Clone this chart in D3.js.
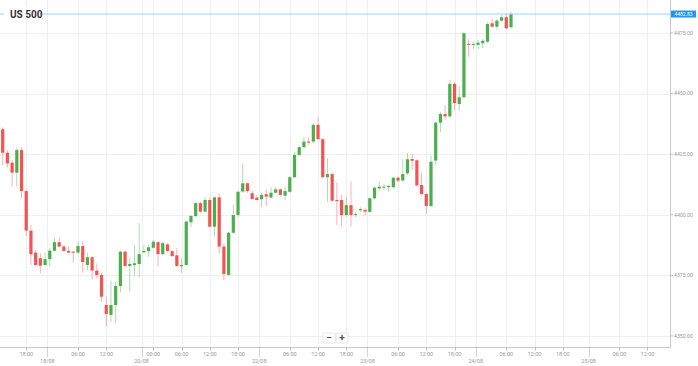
<!DOCTYPE html>
<html><head><meta charset="utf-8">
<script src="https://cdn.jsdelivr.net/npm/d3@7"></script>
<style>html,body{margin:0;padding:0;background:#fff;overflow:hidden}svg{display:block}</style>
</head><body>
<svg id="chart" width="698" height="366"></svg>
<script>
// Hourly candles (trading hours only), index 0 = 17/08 13:00
const opens  = [4435.3,4425.6,4421.5,4417.4,4426.7,4409.8,4393.5,4384.4,4382.1,4379.3,4381.7,4385.2,4388.7,4386.9,4385.1,4384.8,4384.4,4387.1,4379.3,4382.5,4377.0,4375.2,4362.8,4358.7,4362.8,4370.6,4384.8,4378.9,4379.3,4379.7,4384.5,4385.0,4386.4,4388.7,4383.8,4387.8,4385.0,4383.3,4378.8,4379.3,4396.9,4399.5,4404.8,4401.3,4406.1,4395.1,4407.2,4386.9,4375.2,4392.6,4399.9,4409.6,4413.0,4408.9,4407.1,4406.4,4408.5,4407.1,4409.1,4410.5,4407.9,4409.5,4415.5,4424.7,4427.9,4430.2,4430.2,4437.1,4431.2,4415.5,4416.8,4406.1,4406.1,4399.9,4404.0,4399.9,4401.9,4402.0,4401.2,4406.8,4410.9,4411.2,4411.4,4411.4,4415.3,4414.2,4417.1,4423.0,4422.5,4412.3,4408.6,4403.6,4422.4,4438.0,4441.6,4440.6,4454.0,4445.7,4448.5,4470.5,4470.1,4470.1,4470.8,4471.4,4479.0,4477.6,4480.1,4481.5,4477.4];
const highs  = [4436.1,4426.7,4422.6,4427.6,4427.9,4410.2,4395.8,4385.5,4384.1,4384.3,4386.3,4390.3,4390.6,4387.6,4386.9,4385.2,4388.9,4388.9,4384.4,4383.0,4380.0,4376.1,4366.2,4372.8,4372.4,4385.2,4385.2,4382.1,4387.6,4396.5,4387.6,4387.6,4389.6,4389.2,4388.9,4388.3,4385.5,4386.2,4382.1,4397.7,4399.9,4405.4,4405.4,4407.2,4407.2,4407.5,4408.9,4388.3,4393.0,4404.1,4409.8,4421.0,4413.3,4410.0,4408.2,4409.1,4410.5,4411.4,4411.4,4410.9,4411.6,4416.0,4426.0,4428.4,4432.0,4432.0,4437.8,4440.2,4431.6,4423.3,4417.4,4413.3,4408.2,4407.5,4413.7,4401.3,4403.1,4402.7,4407.2,4411.6,4413.7,4412.7,4412.3,4415.7,4415.7,4422.9,4425.4,4425.1,4422.9,4417.3,4408.9,4424.5,4438.7,4442.5,4445.3,4455.5,4454.9,4453.0,4475.3,4472.4,4471.4,4472.1,4472.5,4479.3,4480.7,4480.7,4482.4,4483.1,4483.8];
const lows   = [4420.5,4419.6,4411.6,4411.6,4406.8,4391.3,4379.3,4378.6,4375.9,4378.9,4378.6,4384.8,4386.7,4384.8,4384.1,4380.3,4384.1,4376.1,4377.2,4373.4,4373.8,4364.2,4353.9,4355.9,4355.3,4367.9,4378.5,4368.3,4374.5,4374.2,4384.1,4382.7,4386.1,4378.9,4383.4,4384.7,4382.6,4378.4,4376.1,4378.9,4394.9,4399.1,4400.8,4400.9,4394.9,4391.0,4384.1,4373.1,4374.8,4392.3,4399.0,4409.1,4409.0,4406.3,4405.9,4403.1,4403.6,4406.8,4408.9,4407.9,4406.1,4409.1,4415.1,4424.3,4427.4,4428.8,4429.5,4430.9,4415.1,4405.4,4405.4,4395.8,4395.4,4399.2,4395.1,4399.0,4401.3,4399.9,4400.8,4406.4,4410.0,4410.2,4409.5,4410.9,4413.4,4413.7,4416.4,4418.5,4411.6,4407.8,4400.3,4403.4,4420.5,4433.9,4439.1,4440.1,4443.2,4443.0,4448.1,4465.2,4468.3,4468.3,4468.7,4471.0,4477.3,4476.5,4479.7,4476.5,4476.9];
const closes = [4425.6,4421.2,4417.4,4426.7,4409.8,4393.5,4383.7,4379.3,4379.0,4381.7,4385.2,4388.7,4386.9,4385.1,4384.4,4384.4,4387.1,4380.5,4382.5,4377.0,4375.1,4366.2,4359.1,4362.8,4370.6,4384.8,4378.9,4379.7,4380.0,4383.8,4385.1,4386.6,4388.9,4383.8,4388.3,4385.1,4383.0,4378.9,4379.3,4397.2,4399.5,4404.8,4401.3,4406.1,4395.1,4407.2,4386.9,4375.6,4392.6,4399.9,4409.5,4413.0,4409.8,4406.5,4406.1,4408.2,4407.5,4409.1,4410.5,4408.2,4409.8,4415.5,4424.7,4427.9,4430.2,4429.8,4437.1,4431.2,4415.5,4416.8,4405.8,4405.8,4399.9,4404.0,4399.9,4400.3,4402.4,4401.3,4406.8,4411.2,4411.6,4411.6,4411.9,4415.3,4414.1,4416.8,4422.9,4422.3,4412.1,4408.6,4403.6,4421.9,4438.0,4441.6,4440.6,4454.0,4446.1,4448.5,4474.9,4470.1,4470.5,4471.0,4471.8,4478.7,4477.6,4480.1,4481.5,4476.9,4482.83];

const priceTicks = [4350, 4375, 4400, 4425, 4450, 4475];
const timeTickIdx = [5,16,22,32,38,44,50,61,67,73,84,90,96,107,113,119,131,137];
const timeTickLabels = ["18:00","06:00","12:00","00:00","06:00","12:00","18:00","06:00","12:00","18:00","06:00","12:00","18:00","06:00","12:00","18:00","06:00","12:00"];
const dateTickIdx = [9.5,29.5,54.5,77.5,100.5,124.5];
const dateTickLabels = ["18/08","20/08","22/08","23/08","24/08","25/08"];
const lastPrice = 4482.83;
const title = "US 500";

const svg = d3.select("#chart");
const plotRight = 670.5, plotBottom = 347.5;
const x = d3.scaleLinear().domain([0, opens.length - 1]).range([2.7, 511]);
const y = d3.scaleLinear().domain([4350, 4475]).range([336, 33]);
const font = "Roboto, 'Open Sans', Arial, sans-serif";

// grid
const grid = svg.append("g");
grid.selectAll("line.h").data(priceTicks).join("line")
  .attr("x1", 0).attr("x2", plotRight).attr("y1", d => Math.round(y(d)) + 0.5).attr("y2", d => Math.round(y(d)) + 0.5)
  .attr("stroke", "#efefef").attr("stroke-width", 1);
grid.selectAll("line.v").data(timeTickIdx.concat(dateTickIdx)).join("line")
  .attr("x1", d => Math.round(x(d)) + 0.5).attr("x2", d => Math.round(x(d)) + 0.5)
  .attr("y1", 0).attr("y2", plotBottom)
  .attr("stroke", "#efefef").attr("stroke-width", 1);

// candles
const data = opens.map((o, i) => ({i, o, h: highs[i], l: lows[i], c: closes[i]}));
const up = "#4cae4f", down = "#f55252";
const cg = svg.append("g");
cg.selectAll("line").data(data).join("line")
  .attr("x1", d => x(d.i)).attr("x2", d => x(d.i))
  .attr("y1", d => y(d.h)).attr("y2", d => y(d.l))
  .attr("stroke", d => d.c >= d.o ? up : down).attr("stroke-opacity", 0.45).attr("stroke-width", 1);
cg.selectAll("rect").data(data).join("rect")
  .attr("x", d => x(d.i) - 1.6).attr("width", 3.2)
  .attr("y", d => y(Math.max(d.o, d.c)))
  .attr("height", d => Math.max(1, Math.abs(y(d.o) - y(d.c))))
  .attr("fill", d => d.c >= d.o ? up : down);

// last price line
svg.append("line").attr("x1", 0).attr("x2", plotRight)
  .attr("y1", y(lastPrice)).attr("y2", y(lastPrice))
  .attr("stroke", "#9fd0f5").attr("stroke-width", 1);

// title
svg.append("rect").attr("x", 4).attr("y", 7).attr("width", 36).attr("height", 14).attr("fill", "#fff");
svg.append("text").attr("x", 10).attr("y", 18).text(title)
  .attr("font-family", font).attr("font-size", 10).attr("font-weight", 700).attr("fill", "#333");

// frame
svg.append("line").attr("x1", plotRight).attr("x2", plotRight).attr("y1", 0).attr("y2", plotBottom).attr("stroke", "#c8c8c8");
svg.append("line").attr("x1", 0).attr("x2", plotRight).attr("y1", plotBottom).attr("y2", plotBottom).attr("stroke", "#c8c8c8");

// y axis labels
const ya = svg.append("g");
ya.selectAll("line").data(priceTicks).join("line")
  .attr("x1", plotRight).attr("x2", plotRight + 2.5)
  .attr("y1", d => y(d)).attr("y2", d => y(d)).attr("stroke", "#bbb");
ya.selectAll("text").data(priceTicks).join("text")
  .attr("x", 674).attr("y", d => y(d) + 1.8)
  .text(d => d3.format(".2f")(d))
  .attr("font-family", font).attr("font-size", 5.2).attr("fill", "#999");

// last price tag
svg.append("rect").attr("x", plotRight + 0.5).attr("y", y(lastPrice) - 3.5).attr("width", 25).attr("height", 7).attr("fill", "#2196f3");
svg.append("text").attr("x", plotRight + 13).attr("y", y(lastPrice) + 1.8).attr("text-anchor", "middle")
  .text(d3.format(".2f")(lastPrice)).attr("font-family", font).attr("font-size", 5).attr("fill", "#fff");

// x axis
const xa = svg.append("g");
xa.selectAll("line.t").data(timeTickIdx).join("line")
  .attr("x1", d => Math.round(x(d)) + 0.5).attr("x2", d => Math.round(x(d)) + 0.5)
  .attr("y1", plotBottom).attr("y2", plotBottom + 3).attr("stroke", "#bbb");
xa.selectAll("text.t").data(timeTickIdx).join("text")
  .attr("x", d => x(d)).attr("y", 355.5).attr("text-anchor", "middle")
  .text((d, i) => timeTickLabels[i])
  .attr("font-family", font).attr("font-size", 5.5).attr("fill", "#999");
xa.selectAll("line.d").data(dateTickIdx).join("line")
  .attr("x1", d => Math.round(x(d)) + 0.5).attr("x2", d => Math.round(x(d)) + 0.5)
  .attr("y1", plotBottom).attr("y2", plotBottom + 9).attr("stroke", "#aaa").attr("stroke-dasharray", "1,1");
xa.selectAll("text.d").data(dateTickIdx).join("text")
  .attr("x", d => x(d)).attr("y", 363).attr("text-anchor", "middle")
  .text((d, i) => dateTickLabels[i])
  .attr("font-family", font).attr("font-size", 5.5).attr("fill", "#999");

// zoom buttons
const zb = svg.append("g");
[["−", 323], ["+", 336]].forEach(([t, bx]) => {
  zb.append("rect").attr("x", bx).attr("y", 333).attr("width", 12).attr("height", 10)
    .attr("fill", "#fff").attr("stroke", "#e6e6e6").attr("rx", 1);
  zb.append("text").attr("x", bx + 6).attr("y", 341).attr("text-anchor", "middle").text(t)
    .attr("font-family", font).attr("font-size", 10).attr("font-weight", 700).attr("fill", "#555");
});
</script>
</body></html>
